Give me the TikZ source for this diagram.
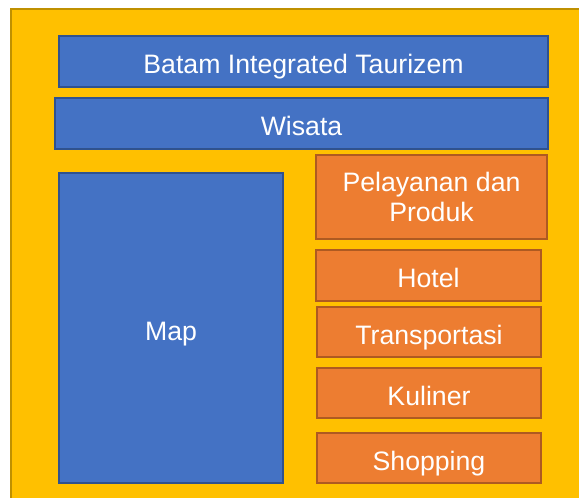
\documentclass[tikz,border=0pt]{standalone}
\usepackage{fontspec}
\setmainfont{Liberation Sans}
\usepackage{xcolor}
\usetikzlibrary{positioning}

\definecolor{pageyellow}{HTML}{FFC000}
\definecolor{pageyellowline}{HTML}{BF9000}
\definecolor{menublue}{HTML}{4472C4}
\definecolor{menublueline}{HTML}{2F528F}
\definecolor{menuorange}{HTML}{ED7D31}
\definecolor{menuorangeline}{HTML}{AE5A21}

\begin{document}
\begin{tikzpicture}[
    x=0.75pt, y=-0.75pt,
    panel/.style={rectangle, draw, line width=1pt, inner sep=0pt, align=center,
        text=white, font=\fontsize{20}{23}\selectfont},
    oneline/.style={text height=19pt, text depth=0.8pt},
    bluepanel/.style={panel, fill=menublue, draw=menublueline},
    orangepanel/.style={panel, fill=menuorange, draw=menuorangeline}
]

\useasboundingbox (0,0) rectangle (579,498);

% page background
\draw[fill=pageyellow, draw=pageyellowline, line width=1pt] (11,9) rectangle (590,510);

% header bars
\node[bluepanel, oneline, minimum width=366.75pt, minimum height=38.25pt] (title) at (303.5,61.5) {Batam Integrated Taurizem};
\node[bluepanel, oneline, minimum width=369.75pt, minimum height=38.25pt] (wisata) at (301.5,123.5) {Wisata};

% map area
\node[bluepanel, oneline, minimum width=168pt, minimum height=232.5pt] (map) at (171,328) {Map};

% services column
\node[orangepanel, minimum width=173.25pt, minimum height=63pt] (layanan) at (431.5,197) {Pelayanan dan\\Produk};
\node[orangepanel, oneline, minimum width=168.75pt, minimum height=38.25pt] (hotel) at (428.5,275.5) {Hotel};
\node[orangepanel, oneline, minimum width=168pt, minimum height=37.5pt] (transport) at (429,332) {Transportasi};
\node[orangepanel, oneline, minimum width=168pt, minimum height=37.5pt] (kuliner) at (429,393) {Kuliner};
\node[orangepanel, oneline, minimum width=168pt, minimum height=37.5pt] (shopping) at (429,458) {Shopping};

\end{tikzpicture}
\end{document}
